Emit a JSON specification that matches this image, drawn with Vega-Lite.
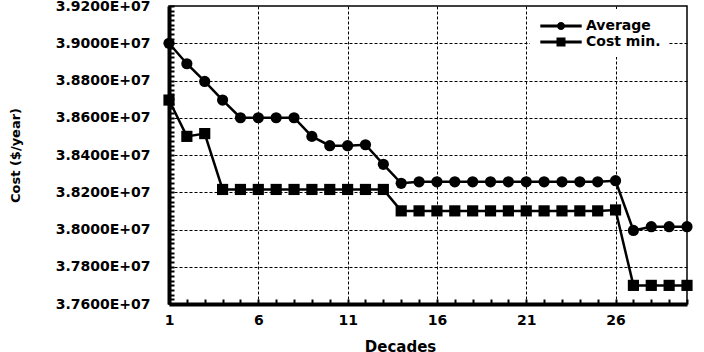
{
  "$schema": "https://vega.github.io/schema/vega-lite/v6.json",
  "autosize": "none",
  "width": 518,
  "height": 298,
  "padding": {"left": 169, "top": 6, "right": 17, "bottom": 48},
  "background": "white",
  "view": {"stroke": "black", "strokeWidth": 1.5},
  "config": {
    "font": "DejaVu Sans",
    "axis": {"labelFont": "DejaVu Sans", "labelFontWeight": "bold", "labelFontSize": 14, "labelColor": "black", "titleFont": "DejaVu Sans", "titleFontWeight": "bold", "titleColor": "black", "domainColor": "black", "domainWidth": 4, "tickColor": "black", "tickWidth": 2, "gridDash": [3, 2], "gridWidth": 1, "labelFlush": false}
  },
  "data": {"values": [
    {"decade": 1, "series": "Average", "cost": 39000000},
    {"decade": 2, "series": "Average", "cost": 38890000},
    {"decade": 3, "series": "Average", "cost": 38795000},
    {"decade": 4, "series": "Average", "cost": 38695000},
    {"decade": 5, "series": "Average", "cost": 38600000},
    {"decade": 6, "series": "Average", "cost": 38600000},
    {"decade": 7, "series": "Average", "cost": 38600000},
    {"decade": 8, "series": "Average", "cost": 38600000},
    {"decade": 9, "series": "Average", "cost": 38500000},
    {"decade": 10, "series": "Average", "cost": 38450000},
    {"decade": 11, "series": "Average", "cost": 38450000},
    {"decade": 12, "series": "Average", "cost": 38455000},
    {"decade": 13, "series": "Average", "cost": 38350000},
    {"decade": 14, "series": "Average", "cost": 38248000},
    {"decade": 15, "series": "Average", "cost": 38256000},
    {"decade": 16, "series": "Average", "cost": 38256000},
    {"decade": 17, "series": "Average", "cost": 38256000},
    {"decade": 18, "series": "Average", "cost": 38256000},
    {"decade": 19, "series": "Average", "cost": 38256000},
    {"decade": 20, "series": "Average", "cost": 38256000},
    {"decade": 21, "series": "Average", "cost": 38256000},
    {"decade": 22, "series": "Average", "cost": 38256000},
    {"decade": 23, "series": "Average", "cost": 38256000},
    {"decade": 24, "series": "Average", "cost": 38256000},
    {"decade": 25, "series": "Average", "cost": 38256000},
    {"decade": 26, "series": "Average", "cost": 38262000},
    {"decade": 27, "series": "Average", "cost": 37995000},
    {"decade": 28, "series": "Average", "cost": 38015000},
    {"decade": 29, "series": "Average", "cost": 38015000},
    {"decade": 30, "series": "Average", "cost": 38015000},
    {"decade": 1, "series": "Cost min.", "cost": 38695000},
    {"decade": 2, "series": "Cost min.", "cost": 38500000},
    {"decade": 3, "series": "Cost min.", "cost": 38515000},
    {"decade": 4, "series": "Cost min.", "cost": 38215000},
    {"decade": 5, "series": "Cost min.", "cost": 38215000},
    {"decade": 6, "series": "Cost min.", "cost": 38215000},
    {"decade": 7, "series": "Cost min.", "cost": 38215000},
    {"decade": 8, "series": "Cost min.", "cost": 38215000},
    {"decade": 9, "series": "Cost min.", "cost": 38215000},
    {"decade": 10, "series": "Cost min.", "cost": 38215000},
    {"decade": 11, "series": "Cost min.", "cost": 38215000},
    {"decade": 12, "series": "Cost min.", "cost": 38215000},
    {"decade": 13, "series": "Cost min.", "cost": 38215000},
    {"decade": 14, "series": "Cost min.", "cost": 38100000},
    {"decade": 15, "series": "Cost min.", "cost": 38100000},
    {"decade": 16, "series": "Cost min.", "cost": 38100000},
    {"decade": 17, "series": "Cost min.", "cost": 38100000},
    {"decade": 18, "series": "Cost min.", "cost": 38100000},
    {"decade": 19, "series": "Cost min.", "cost": 38100000},
    {"decade": 20, "series": "Cost min.", "cost": 38100000},
    {"decade": 21, "series": "Cost min.", "cost": 38100000},
    {"decade": 22, "series": "Cost min.", "cost": 38100000},
    {"decade": 23, "series": "Cost min.", "cost": 38100000},
    {"decade": 24, "series": "Cost min.", "cost": 38100000},
    {"decade": 25, "series": "Cost min.", "cost": 38100000},
    {"decade": 26, "series": "Cost min.", "cost": 38105000},
    {"decade": 27, "series": "Cost min.", "cost": 37700000},
    {"decade": 28, "series": "Cost min.", "cost": 37700000},
    {"decade": 29, "series": "Cost min.", "cost": 37700000},
    {"decade": 30, "series": "Cost min.", "cost": 37700000}
  ]},
  "encoding": {
    "x": {"field": "decade", "type": "quantitative",
      "scale": {"domain": [1, 30], "nice": false, "zero": false},
      "axis": {
        "title": "Decades", "titleFontSize": 15, "titleX": 231, "titleY": 35, "titleBaseline": "top",
        "values": [1,2,3,4,5,6,7,8,9,10,11,12,13,14,15,16,17,18,19,20,21,22,23,24,25,26,27,28,29,30],
        "labelExpr": "(datum.value - 1) % 5 === 0 ? datum.label : ''",
        "labelOverlap": false,
        "tickSize": -5,
        "labelPadding": 14,
        "grid": true,
        "gridColor": {"condition": {"test": "(datum.value - 1) % 5 === 0 && datum.value > 1", "value": "black"}, "value": "transparent"}
      }
    },
    "y": {"field": "cost", "type": "quantitative",
      "scale": {"domain": [37600000, 39200000], "nice": false, "zero": false},
      "axis": {
        "title": "Cost ($/year)", "titleFontSize": 13, "titleX": -147, "titleY": 149,
        "values": [37600000,37625000,37650000,37675000,37700000,37725000,37750000,37775000,37800000,37825000,37850000,37875000,37900000,37925000,37950000,37975000,38000000,38025000,38050000,38075000,38100000,38125000,38150000,38175000,38200000,38225000,38250000,38275000,38300000,38325000,38350000,38375000,38400000,38425000,38450000,38475000,38500000,38525000,38550000,38575000,38600000,38625000,38650000,38675000,38700000,38725000,38750000,38775000,38800000,38825000,38850000,38875000,38900000,38925000,38950000,38975000,39000000,39025000,39050000,39075000,39100000,39125000,39150000,39175000,39200000],
        "labelExpr": "datum.value % 200000 === 0 ? format(datum.value / 10000000, '.4f') + 'E+07' : ''",
        "labelOverlap": false,
        "tickSize": -5,
        "labelPadding": 24,
        "grid": true,
        "gridColor": {"condition": {"test": "datum.value % 200000 === 0 && datum.value > 37600000 && datum.value < 39200000", "value": "black"}, "value": "transparent"}
      }
    }
  },
  "resolve": {"scale": {"shape": "independent"}},
  "layer": [
    {
      "mark": {"type": "line", "color": "black", "strokeWidth": 2.5},
      "encoding": {"detail": {"field": "series"}}
    },
    {
      "mark": {"type": "point", "filled": true, "color": "black", "opacity": 1, "size": 125},
      "encoding": {
        "shape": {"field": "series", "type": "nominal",
          "scale": {"domain": ["Average", "Cost min."], "range": ["circle", "square"]},
          "legend": null
        }
      }
    },
    {
      "mark": {"type": "point", "filled": true, "color": "black", "opacity": 1, "size": 0},
      "encoding": {
        "shape": {"field": "series", "type": "nominal",
          "scale": {"domain": ["Average", "Cost min."], "range": ["M-2.3,-0.17H2.3V0.17H-2.3ZM0.45,0A0.45,0.45 0 1,1 -0.45,0A0.45,0.45 0 1,1 0.45,0Z", "M-2.3,-0.17H2.3V0.17H-2.3ZM-0.5,-0.5H0.5V0.5H-0.5Z"]},
          "legend": {
            "title": null, "orient": "none", "legendX": 361, "legendY": 3,
            "fillColor": "white", "padding": 8,
            "labelFont": "DejaVu Sans", "labelFontWeight": "bold", "labelFontSize": 14, "labelColor": "black",
            "symbolSize": 324, "symbolFillColor": "black", "symbolStrokeWidth": 0, "symbolOpacity": 1,
            "labelOffset": 16, "rowPadding": 0, "symbolOffset": 14
          }
        }
      }
    }
  ]
}
